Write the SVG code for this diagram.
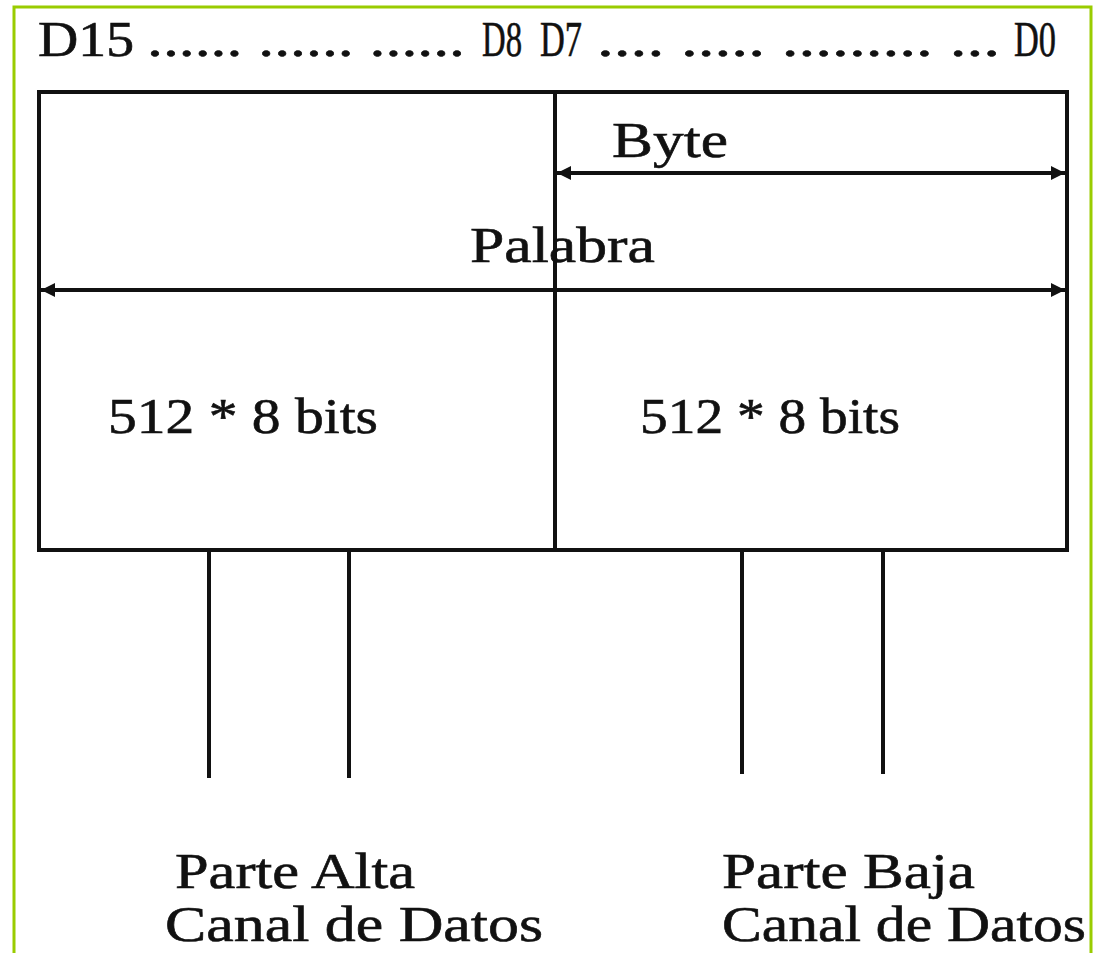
<svg xmlns="http://www.w3.org/2000/svg" width="1095" height="953" viewBox="0 0 1095 953">
<style>
.t{font-family:"Liberation Serif","Times New Roman",serif;fill:#111;font-size:50px;stroke:#111;stroke-width:0.6}
.ln{stroke:#111;stroke-width:4;fill:none}
</style>
<defs>
<marker id="ah" viewBox="0 0 10 10" refX="10" refY="5" markerWidth="3.5" markerHeight="4" orient="auto-start-reverse" markerUnits="strokeWidth">
<path d="M0,0 L10,5 L0,10 z" fill="#111"/>
</marker>
</defs>
<rect x="0" y="0" width="1095" height="953" fill="#fff"/>
<path d="M14,960 V7 H1091 V960" fill="none" stroke="#99cc00" stroke-width="3"/>
<g id="header">
<text class="t" x="38" y="56" textLength="96" lengthAdjust="spacingAndGlyphs">D15</text>
<text class="t" x="147" y="56" textLength="318" lengthAdjust="spacingAndGlyphs">...... ...... ......</text>
<text class="t" x="482" y="56" textLength="40" lengthAdjust="spacingAndGlyphs">D8</text>
<text class="t" x="540" y="56" textLength="42" lengthAdjust="spacingAndGlyphs">D7</text>
<text class="t" x="597" y="56" textLength="403" lengthAdjust="spacingAndGlyphs">.... ..... ......... ...</text>
<text class="t" x="1014" y="56" textLength="42" lengthAdjust="spacingAndGlyphs">D0</text>
</g>
<g id="memory">
<rect class="ln" x="39" y="92" width="1028" height="458"/>
<line class="ln" x1="555" y1="92" x2="555" y2="550"/>
<text class="t" x="612" y="157" textLength="116" lengthAdjust="spacingAndGlyphs">Byte</text>
<text class="t" x="470" y="262" textLength="185" lengthAdjust="spacingAndGlyphs">Palabra</text>
<text class="t" x="108" y="433" textLength="270" lengthAdjust="spacingAndGlyphs">512 * 8 bits</text>
<text class="t" x="640" y="433" textLength="260" lengthAdjust="spacingAndGlyphs">512 * 8 bits</text>
</g>
<g id="connectors">
<line class="ln" x1="557" y1="173" x2="1065" y2="173" marker-start="url(#ah)" marker-end="url(#ah)"/>
<line class="ln" x1="41" y1="290" x2="1065" y2="290" marker-start="url(#ah)" marker-end="url(#ah)"/>
<line class="ln" x1="209" y1="552" x2="209" y2="778"/>
<line class="ln" x1="349" y1="552" x2="349" y2="778"/>
<line class="ln" x1="742" y1="552" x2="742" y2="774"/>
<line class="ln" x1="883" y1="552" x2="883" y2="774"/>
</g>
<g id="labels">
<text class="t" x="175" y="888" textLength="240" lengthAdjust="spacingAndGlyphs">Parte Alta</text>
<text class="t" x="165" y="941" textLength="378" lengthAdjust="spacingAndGlyphs">Canal de Datos</text>
<text class="t" x="722" y="888" textLength="253" lengthAdjust="spacingAndGlyphs">Parte Baja</text>
<text class="t" x="722" y="941" textLength="364" lengthAdjust="spacingAndGlyphs">Canal de Datos</text>
</g>
</svg>
